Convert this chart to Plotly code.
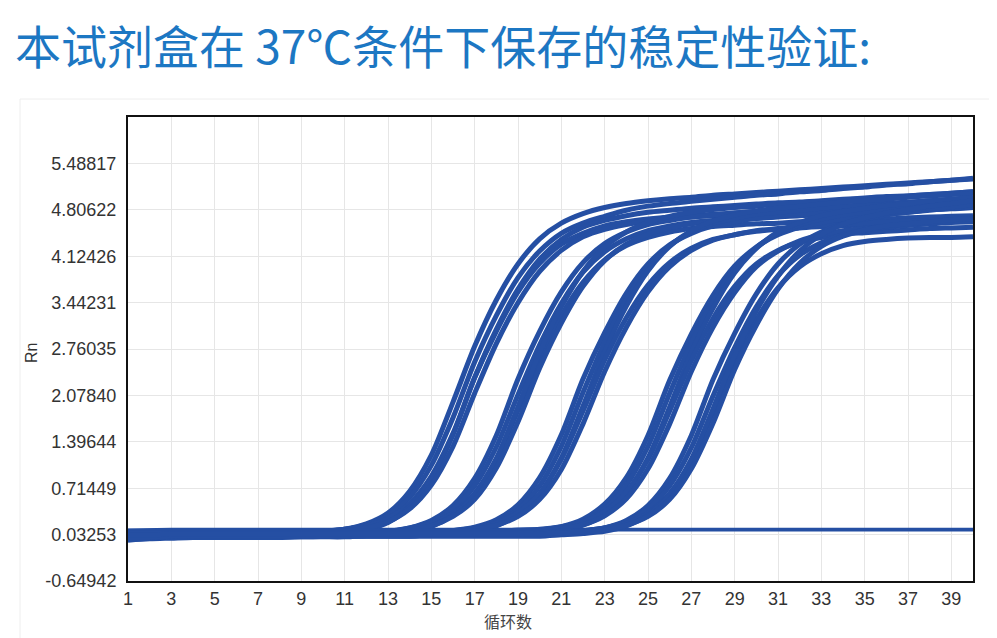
import plotly.graph_objects as go

# ---------------- data ----------------
cycles = list(range(1, 41))

x_tick_vals = [1, 3, 5, 7, 9, 11, 13, 15, 17, 19, 21, 23, 25, 27, 29, 31, 33, 35, 37, 39]
y_tick_vals = [-0.64942, 0.03253, 0.71449, 1.39644, 2.07840, 2.76035, 3.44231, 4.12426, 4.80622, 5.48817]
y_tick_text = ["-0.64942", "0.03253", "0.71449", "1.39644", "2.07840", "2.76035", "3.44231", "4.12426", "4.80622", "5.48817"]
y_range = [-0.64942, 6.17012]
x_range = [1, 40]

# group 1 (Ct ~ 17)
g1_a = [0.00,0.01,0.02,0.03,0.03,0.03,0.03,0.04,0.05,0.07, 0.11,0.19,0.35,0.67,1.20,1.98,2.80,3.48,4.01,4.38, 4.61,4.75,4.84,4.90,4.94,4.97,4.99,5.02,5.04,5.06, 5.08,5.10,5.12,5.14,5.16,5.18,5.20,5.22,5.24,5.26]
g1_e = [0.02,0.03,0.04,0.05,0.05,0.05,0.05,0.05,0.06,0.08, 0.11,0.18,0.31,0.58,1.05,1.75,2.57,3.25,3.81,4.20, 4.46,4.61,4.71,4.80,4.86,4.90,4.93,4.96,4.99,5.02, 5.04,5.07,5.09,5.12,5.14,5.17,5.19,5.22,5.24,5.27]
g1_b = [0.04,0.05,0.06,0.06,0.06,0.06,0.06,0.06,0.07,0.08, 0.11,0.16,0.27,0.49,0.89,1.52,2.34,3.02,3.60,4.02, 4.30,4.46,4.57,4.63,4.67,4.70,4.72,4.74,4.76,4.78, 4.79,4.81,4.82,4.84,4.85,4.87,4.88,4.90,4.91,4.93]
g1_c = [-0.05,-0.03,-0.02,-0.01,-0.01,-0.01,-0.01,-0.01,0.00,0.01, 0.04,0.10,0.21,0.44,0.85,1.50,2.34,3.05,3.64,4.08, 4.37,4.55,4.65,4.72,4.77,4.80,4.83,4.85,4.87,4.89, 4.91,4.92,4.94,4.96,4.98,5.00,5.01,5.03,5.05,5.07]
g1_f = [0.01,0.02,0.03,0.04,0.04,0.04,0.04,0.04,0.04,0.06, 0.08,0.13,0.22,0.41,0.76,1.33,2.11,2.84,3.44,3.90, 4.21,4.41,4.52,4.59,4.64,4.67,4.70,4.72,4.73,4.75, 4.77,4.78,4.79,4.81,4.83,4.84,4.85,4.87,4.88,4.90]

# group 2 (Ct ~ 19.4)
g2_a = [0.00,0.01,0.02,0.02,0.02,0.02,0.02,0.02,0.02,0.02, 0.03,0.04,0.07,0.13,0.24,0.46,0.86,1.49,2.32,3.02, 3.60,4.03,4.31,4.48,4.59,4.65,4.70,4.73,4.76,4.78, 4.80,4.82,4.84,4.85,4.87,4.89,4.91,4.93,4.94,4.96]
g2_e = [0.03,0.03,0.04,0.04,0.04,0.04,0.04,0.04,0.04,0.04, 0.04,0.06,0.08,0.13,0.22,0.41,0.75,1.32,2.09,2.82, 3.43,3.89,4.19,4.38,4.50,4.57,4.62,4.65,4.67,4.69, 4.71,4.73,4.74,4.75,4.77,4.78,4.80,4.82,4.83,4.84]
g2_b = [0.05,0.05,0.05,0.05,0.05,0.05,0.05,0.05,0.05,0.05, 0.05,0.07,0.08,0.12,0.20,0.35,0.64,1.14,1.86,2.62, 3.25,3.74,4.07,4.28,4.40,4.48,4.53,4.56,4.58,4.60, 4.61,4.63,4.64,4.65,4.66,4.67,4.69,4.70,4.71,4.72]
g2_c = [-0.04,-0.02,0.00,0.00,0.00,0.00,0.00,0.00,0.00,0.00, 0.00,0.02,0.04,0.07,0.15,0.32,0.62,1.15,1.91,2.71, 3.38,3.90,4.26,4.48,4.62,4.71,4.77,4.81,4.84,4.86, 4.89,4.91,4.93,4.95,4.97,4.99,5.01,5.03,5.05,5.07]
g2_f = [0.02,0.03,0.04,0.04,0.04,0.04,0.04,0.04,0.04,0.04, 0.04,0.05,0.07,0.10,0.16,0.30,0.55,1.01,1.69,2.48, 3.14,3.68,4.06,4.30,4.45,4.54,4.60,4.63,4.66,4.68, 4.70,4.72,4.73,4.75,4.76,4.78,4.79,4.81,4.82,4.84]

# group 3 (Ct ~ 22.5)
g3_a = [0.02,0.03,0.04,0.04,0.04,0.04,0.04,0.04,0.04,0.04, 0.04,0.04,0.04,0.05,0.06,0.09,0.14,0.25,0.47,0.87, 1.50,2.32,3.00,3.58,4.01,4.29,4.46,4.57,4.63,4.68, 4.71,4.74,4.77,4.79,4.81,4.83,4.85,4.87,4.89,4.91]
g3_e = [0.00,0.01,0.03,0.03,0.03,0.03,0.03,0.03,0.03,0.03, 0.03,0.03,0.03,0.03,0.05,0.07,0.11,0.21,0.40,0.75, 1.33,2.12,2.86,3.49,3.96,4.28,4.48,4.61,4.68,4.74, 4.77,4.80,4.83,4.86,4.88,4.90,4.92,4.94,4.96,4.98]
g3_b = [-0.03,-0.01,0.01,0.01,0.01,0.01,0.01,0.01,0.01,0.01, 0.01,0.01,0.01,0.01,0.03,0.05,0.08,0.16,0.33,0.63, 1.16,1.92,2.72,3.39,3.91,4.27,4.50,4.64,4.73,4.79, 4.83,4.86,4.89,4.92,4.94,4.96,4.99,5.01,5.03,5.05]
g3_c = [0.06,0.06,0.06,0.06,0.06,0.06,0.06,0.06,0.06,0.06, 0.06,0.06,0.06,0.06,0.08,0.09,0.13,0.20,0.36,0.64, 1.14,1.85,2.60,3.22,3.70,4.03,4.24,4.37,4.44,4.49, 4.52,4.54,4.56,4.57,4.59,4.60,4.61,4.62,4.63,4.65]
g3_f = [0.04,0.04,0.05,0.05,0.05,0.05,0.05,0.05,0.05,0.05, 0.05,0.05,0.05,0.05,0.06,0.07,0.11,0.17,0.30,0.55, 0.99,1.66,2.43,3.08,3.60,3.97,4.21,4.36,4.44,4.50, 4.53,4.56,4.58,4.59,4.61,4.63,4.64,4.65,4.66,4.68]

# group 4 (Ct ~ 26.4)
g4_a = [0.03,0.04,0.05,0.05,0.05,0.05,0.05,0.05,0.05,0.05, 0.05,0.05,0.05,0.05,0.05,0.05,0.05,0.06,0.07,0.10, 0.15,0.26,0.48,0.87,1.49,2.30,2.98,3.55,3.98,4.26, 4.44,4.55,4.62,4.67,4.71,4.74,4.77,4.80,4.83,4.85]
g4_e = [0.02,0.03,0.04,0.04,0.04,0.04,0.04,0.04,0.04,0.04, 0.04,0.04,0.04,0.04,0.04,0.04,0.04,0.04,0.06,0.08, 0.12,0.22,0.41,0.76,1.33,2.11,2.85,3.46,3.93,4.25, 4.46,4.59,4.67,4.73,4.77,4.81,4.84,4.87,4.90,4.92]
g4_b = [0.00,0.01,0.02,0.02,0.02,0.02,0.02,0.02,0.02,0.02, 0.02,0.02,0.02,0.02,0.02,0.02,0.02,0.02,0.04,0.06, 0.09,0.17,0.33,0.64,1.16,1.91,2.71,3.36,3.88,4.24, 4.48,4.62,4.72,4.78,4.83,4.87,4.90,4.94,4.96,4.99]
g4_c = [0.08,0.08,0.08,0.08,0.08,0.08,0.08,0.08,0.08,0.08, 0.08,0.08,0.08,0.08,0.08,0.08,0.08,0.08,0.10,0.11, 0.15,0.22,0.37,0.66,1.14,1.85,2.59,3.21,3.68,4.01, 4.21,4.33,4.40,4.45,4.47,4.49,4.51,4.53,4.54,4.55]
g4_f = [0.06,0.06,0.06,0.06,0.06,0.06,0.06,0.06,0.06,0.06, 0.06,0.06,0.06,0.06,0.06,0.06,0.06,0.06,0.08,0.09, 0.12,0.18,0.31,0.56,1.00,1.66,2.43,3.08,3.59,3.97, 4.20,4.35,4.44,4.50,4.53,4.55,4.58,4.60,4.62,4.63]

# group 5 (Ct ~ 28.5)
g5_a = [0.03,0.03,0.03,0.03,0.03,0.03,0.03,0.03,0.03,0.03, 0.03,0.03,0.03,0.03,0.03,0.03,0.03,0.03,0.03,0.04, 0.05,0.08,0.13,0.24,0.46,0.86,1.49,2.31,2.99,3.57, 4.01,4.30,4.48,4.60,4.67,4.73,4.77,4.81,4.85,4.88]
g5_e = [0.05,0.05,0.05,0.05,0.05,0.05,0.05,0.05,0.05,0.05, 0.05,0.05,0.05,0.05,0.05,0.05,0.05,0.05,0.05,0.05, 0.07,0.09,0.13,0.22,0.41,0.75,1.31,2.07,2.78,3.38, 3.84,4.14,4.32,4.44,4.51,4.55,4.58,4.61,4.63,4.65]
g5_b = [0.06,0.06,0.06,0.06,0.06,0.06,0.06,0.06,0.06,0.06, 0.06,0.06,0.06,0.06,0.06,0.06,0.06,0.06,0.06,0.06, 0.08,0.09,0.13,0.20,0.35,0.64,1.12,1.83,2.57,3.19, 3.66,3.97,4.16,4.28,4.34,4.37,4.39,4.40,4.40,4.41]
g5_c = [-0.02,-0.01,0.01,0.01,0.01,0.01,0.01,0.01,0.01,0.01, 0.01,0.01,0.01,0.01,0.01,0.01,0.01,0.01,0.01,0.01, 0.03,0.05,0.08,0.16,0.32,0.62,1.14,1.88,2.67,3.32, 3.83,4.20,4.44,4.59,4.69,4.76,4.81,4.86,4.90,4.94]
g5_f = [0.03,0.03,0.04,0.04,0.04,0.04,0.04,0.04,0.04,0.04, 0.04,0.04,0.04,0.04,0.04,0.04,0.04,0.04,0.04,0.04, 0.06,0.07,0.10,0.17,0.30,0.55,1.00,1.67,2.46,3.11, 3.64,4.02,4.27,4.42,4.51,4.57,4.60,4.63,4.66,4.68]

# no-template controls (flat)
ntc_1 = [0.09,0.10,0.10,0.10,0.10,0.10,0.10,0.10,0.10,0.10, 0.10,0.10,0.10,0.10,0.10,0.10,0.10,0.10,0.10,0.10, 0.10,0.10,0.10,0.10,0.10,0.10,0.10,0.10,0.10,0.10, 0.10,0.10,0.10,0.10,0.10,0.10,0.10,0.10,0.10,0.10]
ntc_2 = [0.10,0.11,0.11,0.11,0.11,0.11,0.11,0.11,0.11,0.11, 0.11,0.11,0.11,0.11,0.11,0.11,0.11,0.11,0.11,0.11, 0.11,0.11,0.11,0.11,0.11,0.11,0.11,0.11,0.11,0.11, 0.11,0.11,0.11,0.11,0.11,0.11,0.11,0.11,0.11,0.11]

title_text = "本试剂盒在 37℃条件下保存的稳定性验证:"
x_title = "循环数"
y_title = "Rn"

# ---------------- figure ----------------
curves = [g1_a, g1_e, g1_b, g1_c, g1_f,
          g2_a, g2_e, g2_b, g2_c, g2_f,
          g3_a, g3_e, g3_b, g3_c, g3_f,
          g4_a, g4_e, g4_b, g4_c, g4_f,
          g5_a, g5_e, g5_b, g5_c, g5_f]

LINE = "#254fa3"
fig = go.Figure()
for vals in [ntc_1, ntc_2]:
    fig.add_trace(go.Scatter(x=cycles[:len(vals)], y=vals, mode="lines",
                             line=dict(color=LINE, width=3), hoverinfo="skip", showlegend=False))
for vals in curves:
    fig.add_trace(go.Scatter(x=cycles[:len(vals)], y=vals, mode="lines",
                             line=dict(color=LINE, width=5, shape="spline", smoothing=0.8),
                             hoverinfo="skip", showlegend=False))

# page has an 8px body margin: figure is placed at (8, 8) in the window
OFF = 8
W, H = 997 - OFF, 638 - OFF
PL, PR, PT, PB = 128, 973, 117, 581          # plot area in window pixels
L, T = PL - OFF, PT - OFF
R, B = W - (PR - OFF), H - (PB - OFF)
pw, ph = PR - PL, PB - PT

def px_x(px):
    return (px - PL) / pw

def px_y(py):
    return (PB - py) / ph

tick_font = dict(family="Liberation Sans, Arial, sans-serif", size=18, color="#333333")

fig.update_layout(
    width=W, height=H,
    margin=dict(l=L, r=R, t=T, b=B),
    paper_bgcolor="white", plot_bgcolor="white",
    annotations=[
        dict(text=title_text, xref="paper", yref="paper", x=px_x(13), y=px_y(44),
             xanchor="left", yanchor="middle", showarrow=False,
             font=dict(family="Noto Sans CJK SC", size=46, color="#1c77c3")),
        dict(text=x_title, xref="paper", yref="paper", x=px_x(508), y=px_y(621),
             xanchor="center", yanchor="middle", showarrow=False,
             font=dict(family="Noto Sans CJK SC", size=16, color="#444444")),
        dict(text=y_title, xref="paper", yref="paper", x=px_x(31), y=px_y(353),
             xanchor="center", yanchor="middle", showarrow=False, textangle=-90,
             font=dict(family="Liberation Sans, Arial, sans-serif", size=16, color="#333333")),
    ],
    xaxis=dict(range=x_range, tickvals=x_tick_vals, showgrid=True, gridcolor="#e6e6e6", gridwidth=1,
               showline=True, linecolor="#111111", linewidth=2, mirror=True, ticks="",
               zeroline=False, tickfont=tick_font, ticklabelstandoff=0),
    yaxis=dict(range=y_range, tickvals=y_tick_vals, ticktext=y_tick_text, showgrid=True,
               gridcolor="#e6e6e6", gridwidth=1, showline=True, linecolor="#111111", linewidth=2,
               mirror=True, ticks="", zeroline=False, tickfont=tick_font, ticklabelstandoff=6),
    shapes=[
        dict(type="line", xref="paper", yref="paper", x0=px_x(20), x1=px_x(20), y0=px_y(99), y1=px_y(638),
             line=dict(color="#eeeeee", width=1)),
        dict(type="line", xref="paper", yref="paper", x0=px_x(20), x1=px_x(997), y0=px_y(99), y1=px_y(99),
             line=dict(color="#eeeeee", width=1)),
    ],
)

fig.write_html("out.html")
